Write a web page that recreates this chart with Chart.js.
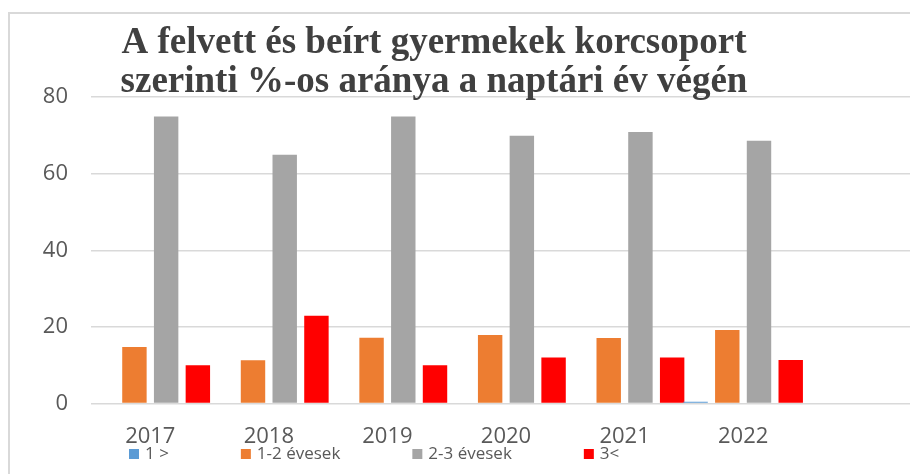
<!DOCTYPE html>
<html>
<head>
<meta charset="utf-8">
<script src="https://cdn.jsdelivr.net/npm/chart.js@4.4.0/dist/chart.umd.min.js"></script>
<style>
  html, body { margin: 0; padding: 0; background: #fff; overflow: hidden; }
  #frame { position: absolute; left: 8px; top: 12px; width: 1000px; height: 1000px; border: 2px solid #d9d9d9; }
  #wrap { position: absolute; left: 0; top: 0; width: 922px; height: 474px; }
</style>
</head>
<body>
<div id="frame"></div>
<div id="wrap"><canvas id="ageChart"></canvas></div>
<script>
const years = ['2017', '2018', '2019', '2020', '2021', '2022', ''];
const seriesNames = ['1 >', '1-2 évesek', '2-3 évesek', '3<'];
const under1 = [0.2, 0.2, 0.2, 0.2, 0.2, 0.5];
const age1to2 = [14.8, 11.3, 17.2, 17.9, 17.1, 19.2];
const age2to3 = [74.9, 64.9, 74.9, 69.9, 70.9, 68.6];
const over3 = [10, 22.9, 10, 12, 12, 11.4];
const yTicks = [0, 20, 40, 60, 80];
const titleLines = ['A felvett és beírt gyermekek korcsoport', 'szerinti %-os aránya a naptári év végén'];
const colors = ['#5b9bd5', '#ed7d31', '#a5a5a5', '#ff0000'];

// title sits over the plot area, so it is drawn by hand
const titlePlugin = {
    id: 'overlayTitle',
    afterDraw(chart) {
        const c = chart.ctx;
        c.save();
        c.font = 'bold 37px "Liberation Serif"';
        c.fillStyle = '#404040';
        c.textAlign = 'center';
        c.textBaseline = 'alphabetic';
        titleLines.forEach((t, i) => c.fillText(t, 434, 53 + i * 39));
        c.restore();
    }
};

// excel-like legend with wide gaps between items
const legendPlugin = {
    id: 'bottomLegend',
    afterDraw(chart) {
        const c = chart.ctx;
        c.save();
        c.font = '17px "Open Sans"';
        c.textBaseline = 'middle';
        let x = 129;
        const y = 454;
        chart.data.datasets.forEach(ds => {
            c.fillStyle = ds.backgroundColor;
            c.fillRect(x, y - 5, 10, 10);
            c.fillStyle = '#595959';
            c.fillText(ds.label, x + 16, y);
            x += 16 + c.measureText(ds.label).width + 72;
        });
        c.restore();
    }
};

const values = [under1, age1to2, age2to3, over3];
const datasets = values.map((data, i) => ({
    label: seriesNames[i],
    data: data,
    backgroundColor: colors[i]
}));

const tickFont = { family: 'Open Sans', size: 22 };

new Chart(document.getElementById('ageChart'), {
    type: 'bar',
    data: { labels: years, datasets },
    options: {
        responsive: true,
        maintainAspectRatio: false,
        animation: false,
        layout: { padding: { top: 97, right: 1, bottom: 4, left: 0 } },
        datasets: { bar: { categoryPercentage: 1.07, barPercentage: 0.77 } },
        plugins: {
            legend: { display: false },
            title: { display: false },
            tooltip: { enabled: false }
        },
        scales: {
            x: {
                grid: { display: false, drawTicks: false },
                border: { display: false },
                ticks: { color: '#595959', font: tickFont, padding: 20, maxRotation: 0, autoSkip: false }
            },
            y: {
                min: 0,
                max: 80,
                afterFit(s) { s.width = 91; },
                afterBuildTicks(s) { s.ticks = yTicks.map(v => ({ value: v })); },
                grid: { color: '#d9d9d9', lineWidth: 1.5, drawTicks: false },
                border: { display: false },
                ticks: { color: '#595959', font: tickFont, padding: 23 }
            }
        }
    },
    plugins: [titlePlugin, legendPlugin]
});
</script>
</body>
</html>
